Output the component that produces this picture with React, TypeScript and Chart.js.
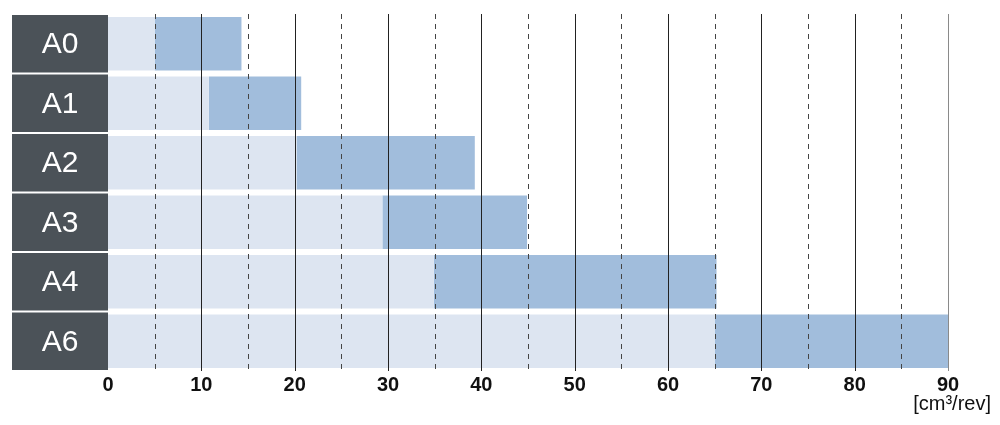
import React, { useEffect, useRef } from "react";
import { Chart, registerables } from "chart.js";

Chart.register(...registerables);

const categories = ["A0", "A1", "A2", "A3", "A4", "A6"];
const rangeStart = [5, 10.8, 20.2, 29.4, 34.9, 65];
const rangeEnd = [14.3, 20.7, 39.3, 44.9, 65.2, 90];
const xTicks = [0, 10, 20, 30, 40, 50, 60, 70, 80, 90];
const solidGrid = [10, 20, 30, 40, 50, 60, 70, 80];
const dashedGrid = [5, 15, 25, 35, 45, 55, 65, 75, 85];
const edgeGrid = [90];
const unitLabel = "[cm³/rev]";

const LIGHT = "#dde5f1";
const DARK = "#a1bddc";
const BOX = "#4b5258";

const overlayPlugin = {
  id: "overlay",
  afterDatasetsDraw(chart: any) {
    const { ctx, chartArea, scales } = chart;
    const x = scales.x;
    const y = scales.y;
    ctx.save();
    const drawLine = (v: number, color: string, dash: number[]) => {
      const px = Math.round(x.getPixelForValue(v)) + 0.5;
      ctx.beginPath();
      ctx.setLineDash(dash);
      ctx.strokeStyle = color;
      ctx.lineWidth = 1;
      ctx.moveTo(px, chartArea.top);
      ctx.lineTo(px, chartArea.bottom);
      ctx.stroke();
    };
    solidGrid.forEach((v) => drawLine(v, "#222222", []));
    dashedGrid.forEach((v) => drawLine(v, "#444444", [5, 5]));
    edgeGrid.forEach((v) => drawLine(v, "#8a8a8a", []));
    ctx.setLineDash([]);

    // category label boxes
    const pitch = (chartArea.bottom - chartArea.top) / categories.length;
    const boxH = pitch - 2;
    categories.forEach((c, i) => {
      const yc = y.getPixelForValue(i);
      ctx.fillStyle = BOX;
      ctx.fillRect(12, yc - boxH / 2, chartArea.left - 12, boxH);
      ctx.fillStyle = "#ffffff";
      ctx.font = "30px 'Liberation Sans', Arial, sans-serif";
      ctx.textAlign = "center";
      ctx.textBaseline = "middle";
      ctx.fillText(c, (12 + chartArea.left) / 2, yc + 1);
    });

    // unit label
    ctx.fillStyle = "#111111";
    ctx.font = "20px 'Liberation Sans', Arial, sans-serif";
    ctx.textAlign = "right";
    ctx.textBaseline = "alphabetic";
    ctx.fillText(unitLabel, 991, 410);
    ctx.restore();
  },
};

export default function App() {
  const ref = useRef<HTMLCanvasElement | null>(null);
  useEffect(() => {
    if (!ref.current) return;
    const chart = new Chart(ref.current, {
      type: "bar",
      data: {
        labels: categories,
        datasets: [
          {
            label: "base",
            data: rangeStart.map((s) => [0, s]) as any,
            backgroundColor: LIGHT,
            borderWidth: 0,
            grouped: false,
            barPercentage: 0.9,
            categoryPercentage: 1,
          },
          {
            label: "range",
            data: rangeStart.map((s, i) => [s, rangeEnd[i]]) as any,
            backgroundColor: DARK,
            borderWidth: 0,
            grouped: false,
            barPercentage: 0.9,
            categoryPercentage: 1,
          },
        ],
      },
      options: {
        indexAxis: "y",
        animation: false,
        responsive: false,
        maintainAspectRatio: false,
        layout: { padding: { left: 108, right: 52, top: 14, bottom: 26 } },
        plugins: { legend: { display: false }, tooltip: { enabled: false } },
        scales: {
          y: { type: "category", display: false, offset: true },
          x: {
            type: "linear",
            min: 0,
            max: 90,
            afterBuildTicks: (axis: any) => {
              axis.ticks = xTicks.map((v) => ({ value: v }));
            },
            grid: { display: false, drawTicks: false },
            border: { display: false },
            ticks: {
              padding: 2,
              color: "#111111",
              font: { size: 20, weight: "bold", family: "'Liberation Sans', Arial, sans-serif" },
            },
          },
        },
      },
      plugins: [overlayPlugin],
    });
    return () => chart.destroy();
  }, []);
  return (
    <div style={{ position: "fixed", left: 0, top: 0, width: 1000, height: 425, background: "#fff" }}>
      <canvas ref={ref} width={1000} height={425} style={{ width: 1000, height: 425 }} />
    </div>
  );
}
